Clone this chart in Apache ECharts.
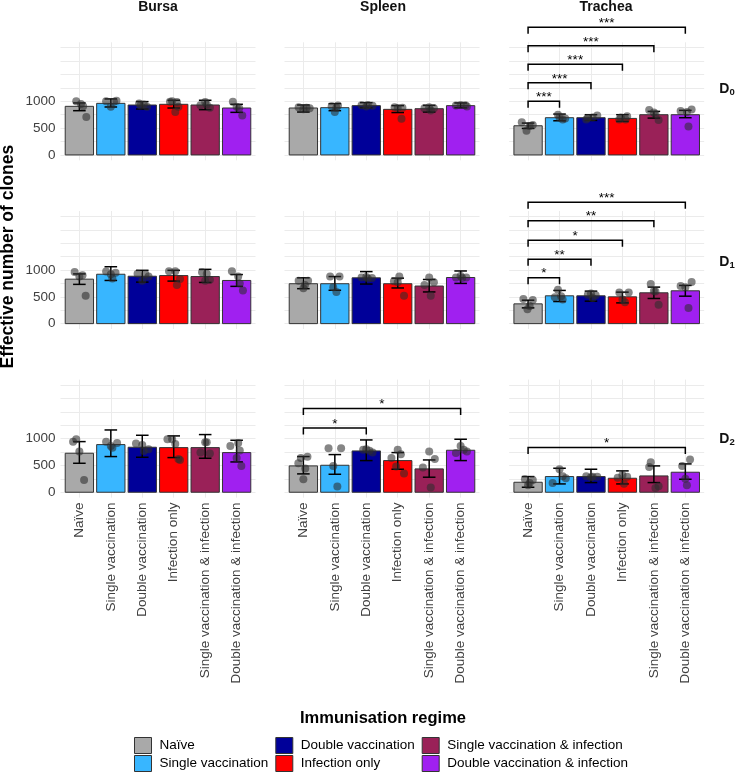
<!DOCTYPE html>
<html><head><meta charset="utf-8">
<script src="https://cdn.jsdelivr.net/npm/echarts@6/dist/echarts.min.js"></script>
<style>html,body{margin:0;padding:0;background:#fff}#c{width:736px;height:774px}</style>
</head><body><div id="c"></div>
<script>
// ---------------- DATA ----------------
const categories = ['Naïve','Single vaccination','Double vaccination','Infection only','Single vaccination & infection','Double vaccination & infection'];
const tissues = ['Bursa','Spleen','Trachea'];
const timepoints = ['0','1','2'];
const yTickLabels = [0, 500, 1000];

// D0
const meanD0Bursa = [906, 962, 931, 944, 931, 875];
const lowD0Bursa  = [825, 894, 856, 875, 844, 794];
const highD0Bursa = [969, 1044, 994, 1019, 1019, 944];
const ptsD0Bursa = [[1,-0.1,1000],[1,0.05,950],[1,0.12,906],[1,0.22,706],
  [2,-0.15,1000],[2,0.1,990],[2,0.18,1010],[2,0,900],
  [3,-0.1,960],[3,0.05,940],[3,0.15,900],[3,-0.05,920],
  [4,-0.12,990],[4,0.1,985],[4,0.15,900],[4,0.05,800],[4,-0.05,1000],
  [5,-0.15,925],[5,0.15,880],[5,0,985],[5,0.05,940],
  [6,-0.12,990],[6,0.18,735],[6,0.08,870],[6,0,900]];
const brD0Bursa = [];

const meanD0Spleen = [875, 881, 919, 850, 862, 919];
const lowD0Spleen  = [800, 825, 880, 790, 800, 880];
const highD0Spleen = [931, 956, 975, 919, 925, 969];
const ptsD0Spleen = [[1,-0.15,890],[1,0.1,880],[1,0.2,870],[1,0,850],
  [2,-0.1,910],[2,0.1,920],[2,0,800],[2,0.05,880],
  [3,-0.15,925],[3,0.05,930],[3,0.2,915],[3,0,905],
  [4,-0.1,890],[4,0,875],[4,0.15,880],[4,0.12,675],
  [5,-0.15,870],[5,0,890],[5,0.15,870],[5,0.05,830],
  [6,-0.15,920],[6,0,930],[6,0.15,925],[6,0.2,905]];
const brD0Spleen = [];

const meanD0Trachea = [544, 694, 694, 681, 750, 750];
const lowD0Trachea  = [494, 637, 644, 625, 687, 694];
const highD0Trachea = [594, 762, 750, 750, 812, 831];
const ptsD0Trachea = [[1,-0.2,610],[1,0.15,560],[1,-0.05,450],[1,0.05,540],
  [2,-0.05,750],[2,0.1,660],[2,0.18,680],[2,0,700],
  [3,-0.1,690],[3,0.2,735],[3,0.05,700],[3,-0.15,660],
  [4,-0.05,700],[4,0.15,720],[4,-0.1,660],[4,0.1,660],
  [5,-0.15,840],[5,0.15,650],[5,0.05,760],[5,0,790],
  [6,-0.15,820],[6,0.2,845],[6,0.1,530],[6,0.05,800]];
const brD0Trachea = [[1,2,1000,'***'],[1,3,1345,'***'],[1,4,1690,'***'],[1,5,2035,'***'],[1,6,2380,'***']];

// D1
const meanD1Bursa = [829, 921, 884, 896, 878, 805];
const lowD1Bursa  = [732, 805, 774, 793, 768, 695];
const highD1Bursa = [927, 1061, 994, 994, 1012, 915];
const ptsD1Bursa = [[1,-0.15,965],[1,0.1,900],[1,0.2,520],[1,0,880],
  [2,-0.15,970],[2,0.15,950],[2,0,920],[2,0.05,840],
  [3,-0.15,930],[3,0.1,920],[3,0.2,880],[3,0,800],
  [4,-0.15,975],[4,0.05,975],[4,0.2,830],[4,0.1,720],
  [5,-0.1,960],[5,0.05,930],[5,0.15,820],[5,0,800],
  [6,-0.15,975],[6,0.05,880],[6,0.2,620],[6,0.1,750]];
const brD1Bursa = [];

const meanD1Spleen = [744, 744, 854, 744, 701, 860];
const lowD1Spleen  = [652, 622, 738, 665, 591, 750];
const highD1Spleen = [854, 878, 970, 848, 823, 982];
const ptsD1Spleen = [[1,-0.15,800],[1,0.15,800],[1,0.05,720],[1,0,660],
  [2,-0.15,880],[2,0.15,880],[2,-0.05,680],[2,0.05,590],
  [3,-0.15,860],[3,0,870],[3,0.18,850],[3,0.05,840],
  [4,-0.12,790],[4,0.05,880],[4,0.2,520],[4,0,770],
  [5,-0.15,720],[5,0,860],[5,0.15,770],[5,0.05,520],
  [6,-0.15,860],[6,0,890],[6,0.18,860],[6,0.05,850]];
const brD1Spleen = [];

const meanD1Trachea = [369, 519, 519, 500, 575, 612];
const lowD1Trachea  = [294, 412, 419, 387, 469, 512];
const highD1Trachea = [437, 619, 606, 587, 681, 712];
const ptsD1Trachea = [[1,-0.15,460],[1,0.15,440],[1,-0.02,270],[1,0.05,330],
  [2,-0.05,630],[2,-0.15,490],[2,0.1,450],[2,0.05,510],
  [3,-0.1,540],[3,0.15,530],[3,0.05,480],[3,0,560],
  [4,-0.1,580],[4,0.2,580],[4,0.08,400],[4,0,450],
  [5,-0.1,740],[5,0.15,350],[5,0.05,600],[5,0,610],
  [6,-0.15,700],[6,0.2,775],[6,0.1,290],[6,0,680]];
const brD1Trachea = [[1,2,856,'*'],[1,3,1200,'**'],[1,4,1556,'*'],[1,5,1919,'**'],[1,6,2262,'***']];

// D2
const meanD2Bursa = [727, 888, 839, 832, 832, 739];
const lowD2Bursa  = [540, 665, 652, 646, 634, 565];
const highD2Bursa = [944, 1161, 1062, 1050, 1075, 969];
const ptsD2Bursa = [[1,-0.2,940],[1,-0.1,990],[1,0,760],[1,0.15,230],
  [2,-0.15,940],[2,0.05,830],[2,0.2,920],[2,0,860],
  [3,-0.2,910],[3,0.05,770],[3,0.2,800],[3,0,880],
  [4,-0.2,990],[4,-0.05,990],[4,0.05,900],[4,0.15,620],[4,0.2,600],
  [5,-0.15,740],[5,0.05,930],[5,0.15,720],[5,0,930],
  [6,-0.2,860],[6,0.1,780],[6,0,640],[6,0.15,490],[6,0.05,920]];
const brD2Bursa = [];

const meanD2Spleen = [491, 503, 770, 590, 435, 783];
const lowD2Spleen  = [342, 335, 590, 429, 280, 590];
const highD2Spleen = [665, 702, 975, 739, 602, 988];
const ptsD2Spleen = [[1,-0.16,540],[1,-0.08,640],[1,0.13,660],[1,0.06,441],[1,0,242],
  [2,-0.2,820],[2,0.2,820],[2,-0.05,490],[2,0.08,106],
  [3,-0.1,790],[3,0.1,775],[3,0.2,740],[3,0,800],
  [4,-0.2,640],[4,0,790],[4,0.1,710],[4,-0.05,480],[4,0.2,350],
  [5,-0.2,460],[5,0,760],[5,0.18,620],[5,0.05,90],
  [6,-0.15,730],[6,0,860],[6,0.1,790],[6,0.2,760]];
const brD2Spleen = [[1,3,1199,'*'],[1,6,1559,'*']];

const meanD2Trachea = [186, 292, 292, 261, 304, 373];
const lowD2Trachea  = [93, 155, 180, 155, 180, 242];
const highD2Trachea = [292, 447, 429, 398, 491, 528];
const ptsD2Trachea = [[1,-0.1,240],[1,0.15,230],[1,0,130],[1,0.05,170],
  [2,-0.22,170],[2,0.1,300],[2,0.2,260],[2,0,430],
  [3,-0.15,300],[3,0.05,290],[3,0.2,290],[3,0,280],
  [4,-0.15,270],[4,0.15,290],[4,0.05,160],[4,0,320],
  [5,-0.1,560],[5,-0.15,470],[5,0.15,110],[5,0.05,80],
  [6,-0.1,490],[6,0.15,610],[6,0.05,130],[6,0,250]];
const brD2Trachea = [[1,6,832,'*']];

// ---------------- STYLE / LAYOUT ----------------
const colors = ['#A9A9A9','#38B6FF','#000099','#FF0000','#9A2158','#A020F0'];
const FONT = 'Liberation Sans, Arial, Helvetica, sans-serif';
const ROW_TOP = [42.3, 211, 379.6];
const COL_LEFT = [60.5, 284.5, 509.2];
const PANEL_W = 195, PANEL_H = 118;
const Y_MIN = -100, Y_MAX = 2100;
const band = PANEL_W / 6.2;
const pxPerUnit = PANEL_H / (Y_MAX - Y_MIN);
const GRID_COLOR = '#EBEBEB';

const panels = [
  [meanD0Bursa, lowD0Bursa, highD0Bursa, ptsD0Bursa, brD0Bursa],
  [meanD0Spleen, lowD0Spleen, highD0Spleen, ptsD0Spleen, brD0Spleen],
  [meanD0Trachea, lowD0Trachea, highD0Trachea, ptsD0Trachea, brD0Trachea],
  [meanD1Bursa, lowD1Bursa, highD1Bursa, ptsD1Bursa, brD1Bursa],
  [meanD1Spleen, lowD1Spleen, highD1Spleen, ptsD1Spleen, brD1Spleen],
  [meanD1Trachea, lowD1Trachea, highD1Trachea, ptsD1Trachea, brD1Trachea],
  [meanD2Bursa, lowD2Bursa, highD2Bursa, ptsD2Bursa, brD2Bursa],
  [meanD2Spleen, lowD2Spleen, highD2Spleen, ptsD2Spleen, brD2Spleen],
  [meanD2Trachea, lowD2Trachea, highD2Trachea, ptsD2Trachea, brD2Trachea]
];

function renderBar(params, api) {
  const x = api.value(0), v = api.value(1), ci = api.value(2);
  const top = api.coord([x, v]), base = api.coord([x, 0]);
  const w = api.size([1, 0])[0] * 0.9;
  return { type: 'rect', shape: { x: top[0] - w / 2, y: top[1], width: w, height: base[1] - top[1] },
    style: { fill: colors[ci], stroke: '#333333', lineWidth: 1 } };
}
function renderErr(params, api) {
  const x = api.value(0);
  const p1 = api.coord([x, api.value(1)]), p2 = api.coord([x, api.value(2)]);
  const hw = api.size([1, 0])[0] * 0.2;
  const st = { stroke: '#000', lineWidth: 1.5 };
  return { type: 'group', children: [
    { type: 'line', shape: { x1: p1[0], y1: p1[1], x2: p2[0], y2: p2[1] }, style: st },
    { type: 'line', shape: { x1: p1[0] - hw, y1: p1[1], x2: p1[0] + hw, y2: p1[1] }, style: st },
    { type: 'line', shape: { x1: p2[0] - hw, y1: p2[1], x2: p2[0] + hw, y2: p2[1] }, style: st }
  ] };
}
function makeBracketRenderer(list) {
  return function (params, api) {
    const b = list[params.dataIndex];
    const p1 = api.coord([b[0], b[2]]), p2 = api.coord([b[1], b[2]]);
    const drop = 6.5;
    return { type: 'group', children: [
      { type: 'polyline', shape: { points: [[p1[0], p1[1] + drop], [p1[0], p1[1]], [p2[0], p2[1]], [p2[0], p2[1] + drop]] },
        style: { stroke: '#000', lineWidth: 1.5, fill: null } },
      { type: 'text', x: (p1[0] + p2[0]) / 2, y: p1[1] - 4,
        style: { text: b[3], fontSize: 13.5, fontFamily: FONT, fill: '#000', align: 'center', verticalAlign: 'middle' } }
    ] };
  };
}

const grid = [], xAxis = [], yAxis = [], series = [];
panels.forEach((pd, p) => {
  const r = Math.floor(p / 3), c = p % 3;
  const [mean, low, high, pts, br] = pd;
  const gA = 2 * p, gB = 2 * p + 1;
  grid.push({ left: COL_LEFT[c], top: ROW_TOP[r] + (Y_MAX - 2000) * pxPerUnit, width: PANEL_W, height: 2000 * pxPerUnit, containLabel: false });
  grid.push({ left: COL_LEFT[c] + 0.6 * band, top: ROW_TOP[r], width: 5 * band, height: PANEL_H, containLabel: false });
  xAxis.push({ gridIndex: gA, type: 'value', min: 0, max: 1, show: false });
  yAxis.push({ gridIndex: gA, type: 'value', min: 0, max: 2000, interval: 250,
    axisLine: { show: false }, axisTick: { show: false },
    splitLine: { show: true, lineStyle: { color: GRID_COLOR, width: 1 } },
    axisLabel: { show: c === 0, margin: 5, fontSize: 13.5, fontFamily: FONT, color: '#404040',
      formatter: v => yTickLabels.includes(v) ? String(v) : '' } });
  xAxis.push({ gridIndex: gB, type: 'value', min: 1, max: 6, interval: 1,
    axisLine: { show: false }, axisTick: { show: false },
    splitLine: { show: true, lineStyle: { color: GRID_COLOR, width: 1 } },
    axisLabel: { show: r === 2, rotate: 90, margin: 5, fontSize: 13.5, fontFamily: FONT, color: '#404040',
      formatter: v => categories[Math.round(v) - 1] || '' } });
  yAxis.push({ gridIndex: gB, type: 'value', min: Y_MIN, max: Y_MAX, show: false });

  series.push({ type: 'custom', xAxisIndex: gB, yAxisIndex: gB, z: 2, silent: true, clip: false,
    data: mean.map((v, i) => [i + 1, v, i]), renderItem: renderBar });
  series.push({ type: 'custom', xAxisIndex: gB, yAxisIndex: gB, z: 3, silent: true, clip: false,
    data: mean.map((v, i) => [i + 1, low[i], high[i]]), renderItem: renderErr });
  series.push({ type: 'scatter', xAxisIndex: gB, yAxisIndex: gB, z: 4, silent: true, clip: false,
    symbol: 'circle', symbolSize: 8, itemStyle: { color: 'rgba(45,45,45,0.72)' },
    data: pts.map(q => [q[0] + q[1], q[2]]) });
  if (br.length) {
    series.push({ type: 'custom', xAxisIndex: gB, yAxisIndex: gB, z: 5, silent: true, clip: false,
      data: br.map(b => [b[0], b[2]]), renderItem: makeBracketRenderer(br) });
  }
});
// legend entries
categories.forEach((name, i) => {
  series.push({ type: 'custom', name, xAxisIndex: 1, yAxisIndex: 1, data: [],
    itemStyle: { color: colors[i] }, renderItem: () => null });
});

const legendCommon = { orient: 'vertical', itemWidth: 17, itemHeight: 16, itemGap: 1, padding: 0,
  icon: 'rect', selectedMode: false,
  itemStyle: { borderColor: '#333333', borderWidth: 1 },
  textStyle: { fontSize: 13.5, fontFamily: FONT, color: '#000', padding: [0, 0, 0, 3] } };
const legend = [
  Object.assign({}, legendCommon, { left: 134, top: 737, data: [categories[0], categories[1]] }),
  Object.assign({}, legendCommon, { left: 275.3, top: 737, data: [categories[2], categories[3]] }),
  Object.assign({}, legendCommon, { left: 421.7, top: 737, data: [categories[4], categories[5]] })
];

const graphic = [];
const stripX = [158, 383, 606];
tissues.forEach((t, i) => graphic.push({ type: 'text', x: stripX[i], y: 7,
  style: { text: t, fontSize: 14, fontWeight: 'bold', fontFamily: FONT, fill: '#111', align: 'center', verticalAlign: 'middle' } }));
const rowY = [89, 262, 439];
timepoints.forEach((d, i) => graphic.push({ type: 'text', x: 719.3, y: rowY[i],
  style: { text: '{d|D}{s|' + d + '}', fontFamily: FONT, fill: '#111', align: 'left', verticalAlign: 'middle',
    rich: { d: { fontSize: 14, fontWeight: 'bold', fontFamily: FONT, fill: '#111', verticalAlign: 'bottom' },
            s: { fontSize: 9.5, fontWeight: 'bold', fontFamily: FONT, fill: '#111', verticalAlign: 'bottom', padding: [0, 0, -1, 0] } } } }));
graphic.push({ type: 'text', x: 8.3, y: 256.7, rotation: Math.PI / 2,
  style: { text: 'Effective number of clones', fontSize: 17.5, fontWeight: 'bold', fontFamily: FONT, fill: '#000', align: 'center', verticalAlign: 'middle' } });
graphic.push({ type: 'text', x: 383, y: 718,
  style: { text: 'Immunisation regime', fontSize: 16.5, fontWeight: 'bold', fontFamily: FONT, fill: '#000', align: 'center', verticalAlign: 'middle' } });

const chart = echarts.init(document.getElementById('c'), null, { renderer: 'canvas' });
chart.setOption({ animation: false, backgroundColor: '#fff', grid, xAxis, yAxis, series, legend, graphic });
</script></body></html>
